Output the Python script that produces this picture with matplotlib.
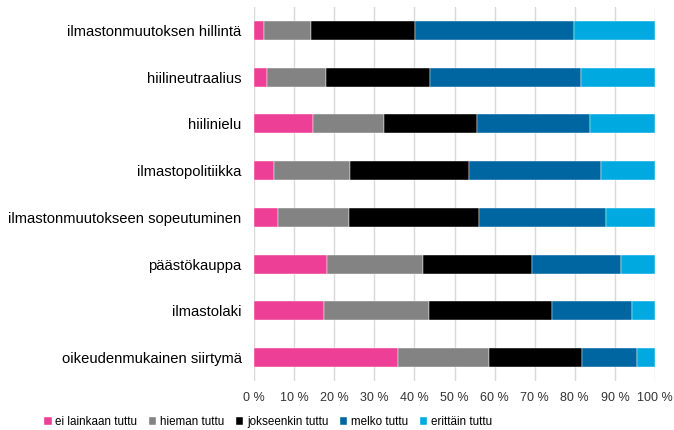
import matplotlib.pyplot as plt
import numpy as np

plt.rcParams['font.family'] = ['Liberation Sans', 'DejaVu Sans']

categories = [
    "ilmastonmuutoksen hillintä",
    "hiilineutraalius",
    "hiilinielu",
    "ilmastopolitiikka",
    "ilmastonmuutokseen sopeutuminen",
    "päästökauppa",
    "ilmastolaki",
    "oikeudenmukainen siirtymä",
]
series_names = ["ei lainkaan tuttu", "hieman tuttu", "jokseenkin tuttu", "melko tuttu", "erittäin tuttu"]
ei_lainkaan = [2.5, 3.3, 14.6, 5.1, 5.9, 18.1, 17.5, 35.8]
hieman = [11.8, 14.6, 17.7, 18.8, 17.8, 24.1, 26.2, 22.7]
jokseenkin = [25.9, 26.0, 23.2, 29.6, 32.3, 27.2, 30.6, 23.4]
melko = [39.7, 37.7, 28.3, 33.0, 31.9, 22.1, 19.9, 13.7]
erittain = [20.1, 18.4, 16.2, 13.5, 12.1, 8.5, 5.8, 4.4]
colors = ["#EE3F96", "#838383", "#000000", "#0066A1", "#00AAE1"]

fig = plt.figure(figsize=(6.74, 4.30), dpi=100)
ax = fig.add_axes([254 / 674, 1 - 381 / 430, 401 / 674, 374 / 430])

y = np.arange(len(categories))
left = np.zeros(len(categories))
for name, vals, col in zip(series_names, [ei_lainkaan, hieman, jokseenkin, melko, erittain], colors):
    ax.barh(y, vals, left=left, height=0.41, color=col, label=name,
            edgecolor="white", linewidth=0.3, zorder=3)
    left += np.array(vals)

ax.set_xlim(0, 100)
ax.set_ylim(len(categories) - 0.5, -0.5)
ax.set_yticks(y)
ax.set_yticklabels(categories, fontsize=10.6)
ax.set_xticks(np.arange(0, 101, 10))
ax.set_xticklabels([f"{v} %" for v in range(0, 101, 10)], fontsize=9, color="#333333")
ax.tick_params(axis="both", length=0)
ax.tick_params(axis="y", pad=9)
ax.tick_params(axis="x", pad=8)
ax.grid(axis="x", color="#D9D9D9", linewidth=1, zorder=0)
for s in ax.spines.values():
    s.set_visible(False)

fig.legend(loc="center", bbox_to_anchor=(268 / 674, 1 - 422 / 430), ncol=5, frameon=False,
           fontsize=8.4, handlelength=0.65, handleheight=0.65, handletextpad=0.3,
           columnspacing=1.0)

fig.savefig("out.png", dpi=100)
